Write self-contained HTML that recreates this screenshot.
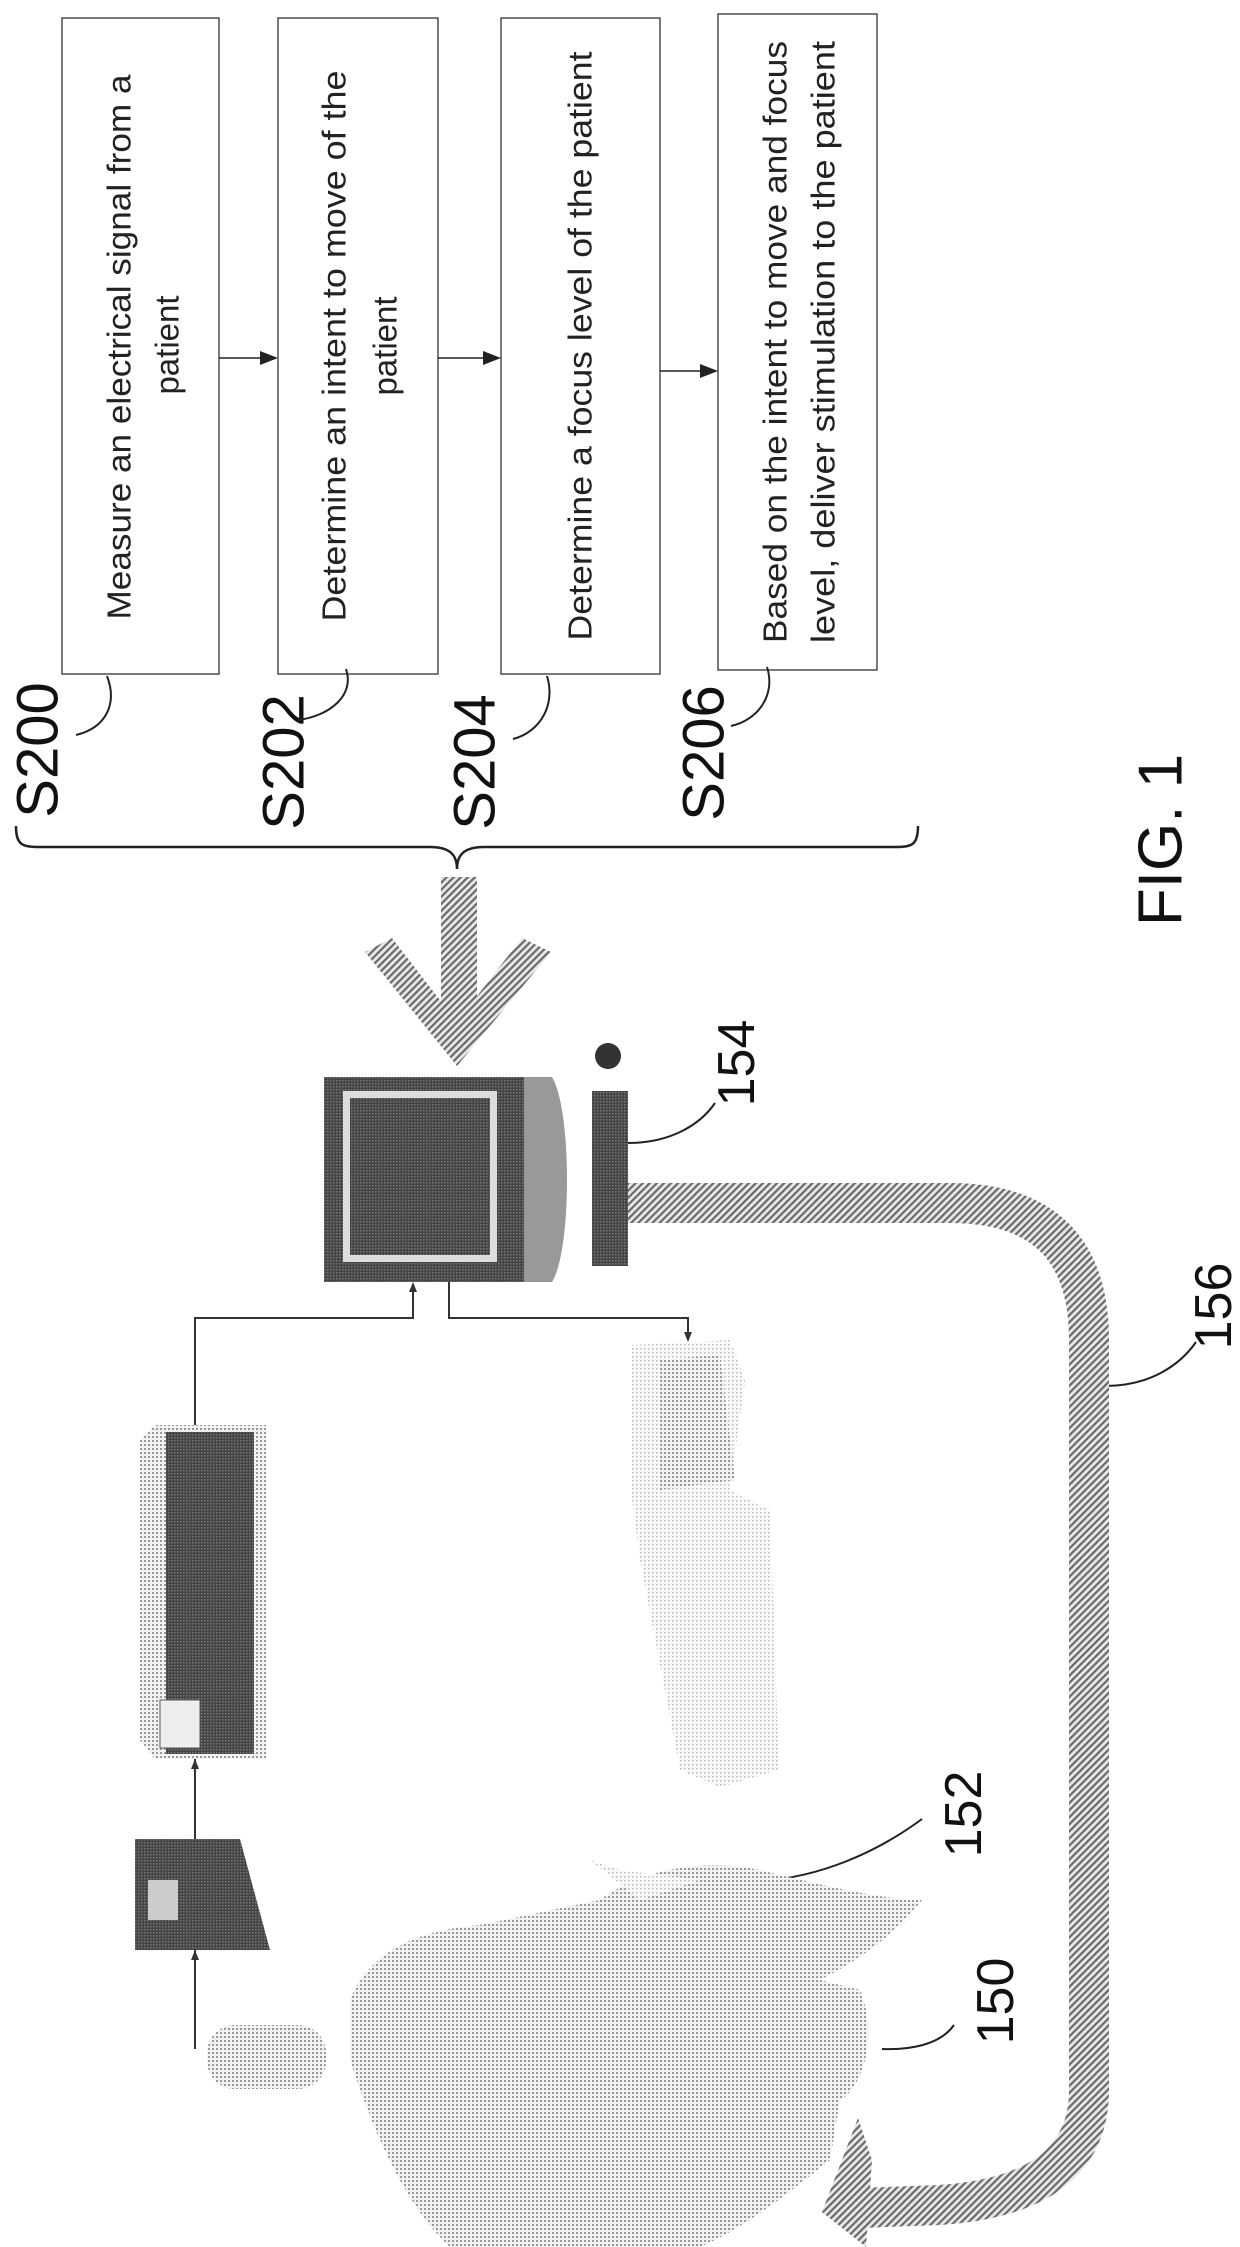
<!DOCTYPE html>
<html><head><meta charset="utf-8"><style>html,body{margin:0;padding:0;background:#fff}svg{display:block}</style></head>
<body>
<svg width="1240" height="2247" viewBox="0 0 1240 2247" xmlns="http://www.w3.org/2000/svg" font-family="Liberation Sans, sans-serif">
<defs>
<pattern id="hatch" width="5" height="5" patternUnits="userSpaceOnUse" patternTransform="rotate(45)">
<rect width="5" height="5" fill="#e8e8e8"/><rect width="2.2" height="5" fill="#6a6a6a"/></pattern>
<pattern id="dots" width="4" height="4" patternUnits="userSpaceOnUse"><rect width="4" height="4" fill="#f2f2f2"/><rect width="2" height="2" fill="#999"/></pattern>
<pattern id="dots2" width="4" height="4" patternUnits="userSpaceOnUse"><rect width="4" height="4" fill="#fafafa"/><rect width="1.5" height="1.5" fill="#b8b8b8"/></pattern>
<pattern id="dark" width="3" height="3" patternUnits="userSpaceOnUse"><rect width="3" height="3" fill="#444"/><rect width="1.5" height="1.5" fill="#777"/></pattern>
</defs>
<g fill="#fff" stroke="#333" stroke-width="1.3">
<rect x="62" y="18" width="157" height="656"/>
<rect x="278" y="18" width="160" height="656"/>
<rect x="501" y="18" width="159" height="656"/>
<rect x="718" y="14" width="159" height="656"/>
</g>
<g font-size="33" fill="#222" text-anchor="middle" dominant-baseline="central">
<text transform="translate(119,347) rotate(-90)" textLength="545" lengthAdjust="spacingAndGlyphs">Measure an electrical signal from a</text>
<text transform="translate(167,345) rotate(-90)">patient</text>
<text transform="translate(334,346) rotate(-90)" textLength="551" lengthAdjust="spacingAndGlyphs">Determine an intent to move of the</text>
<text transform="translate(385,346) rotate(-90)">patient</text>
<text transform="translate(580,346) rotate(-90)" textLength="589" lengthAdjust="spacingAndGlyphs">Determine a focus level of the patient</text>
<text transform="translate(775,342) rotate(-90)" textLength="602" lengthAdjust="spacingAndGlyphs">Based on the intent to move and focus</text>
<text transform="translate(823,342) rotate(-90)" textLength="602" lengthAdjust="spacingAndGlyphs">level, deliver stimulation to the patient</text>
</g>
<g stroke="#222" stroke-width="1.5" fill="#222">
<line x1="219" y1="358" x2="262" y2="358"/><polygon points="278,358 260,351 260,365" stroke="none"/>
<line x1="438" y1="358" x2="485" y2="358"/><polygon points="501,358 483,351 483,365" stroke="none"/>
<line x1="660" y1="371" x2="702" y2="371"/><polygon points="718,371 700,364 700,378" stroke="none"/>
</g>
<g font-size="58" fill="#111" text-anchor="middle" dominant-baseline="central">
<text transform="translate(38,750) rotate(-90)">S200</text>
<text transform="translate(284,762) rotate(-90)">S202</text>
<text transform="translate(475,762) rotate(-90)">S204</text>
<text transform="translate(704,753) rotate(-90)">S206</text>
<text transform="translate(1161,840) rotate(-90)" font-size="62">FIG. 1</text>
<text transform="translate(737,1063) rotate(-90)" font-size="52">154</text>
<text transform="translate(1214,1306) rotate(-90)" font-size="52">156</text>
<text transform="translate(964,1814) rotate(-90)" font-size="52">152</text>
<text transform="translate(996,2001) rotate(-90)" font-size="52">150</text>
</g>
<g fill="none" stroke="#222" stroke-width="2">
<path d="M107 676 C118 705 105 728 76 735"/>
<path d="M346 669 C355 695 330 716 298 720"/>
<path d="M547 676 C556 705 540 732 513 739"/>
<path d="M767 667 C776 695 758 720 731 726"/>
<path d="M16 826 C16 845 22 847 40 847 L430 847 C450 847 457 855 457 869 C457 855 464 847 484 847 L895 847 C912 847 918 845 918 826" stroke-width="2.5"/>
<path d="M628 1143 C670 1143 700 1125 715 1103"/>
<path d="M1105 1386 C1150 1386 1180 1365 1196 1342"/>
<path d="M922 1819 C880 1850 820 1880 747 1882"/>
<path d="M954 2025 C940 2045 910 2050 882 2049"/>
</g>
<rect x="441" y="877" width="36" height="160" fill="url(#hatch)"/>
<polygon points="365,952 392,938 457,1022 522,938 551,952 457,1066" fill="url(#hatch)"/>
<rect x="324" y="1077" width="200" height="205" fill="url(#dark)"/>
<path d="M524 1077 L552 1077 C572 1110 572 1250 552 1282 L524 1282 Z" fill="#999"/>
<rect x="343" y="1091" width="154" height="171" fill="#ddd"/>
<rect x="350" y="1098" width="140" height="157" fill="url(#dark)"/>
<rect x="592" y="1091" width="36" height="175" fill="url(#dark)"/>
<circle cx="608" cy="1056" r="13" fill="#333"/>
<path d="M628 1203 L950 1203 Q1089 1203 1089 1340 L1089 2090 Q1089 2195 940 2205 L860 2208" fill="none" stroke="url(#hatch)" stroke-width="40"/>
<polygon points="858,2118 822,2212 866,2247 872,2160" fill="url(#hatch)"/>
<g stroke="#333" stroke-width="2" fill="none">
<path d="M413 1290 L413 1318 L195 1318 L195 2049"/>
<path d="M449 1282 L449 1318 L688 1318 L688 1336"/>
</g>
<g fill="#333">
<polygon points="413,1282 409,1292 417,1292"/>
<polygon points="688,1342 684,1332 692,1332"/>
<polygon points="195,1759 191,1769 199,1769"/>
<polygon points="195,1950 191,1960 199,1960"/>
</g>
<path d="M140 1440 L155 1425 L266 1425 L266 1759 L155 1759 L140 1740 Z" fill="url(#dots)"/>
<rect x="166" y="1432" width="88" height="322" fill="url(#dark)"/>
<rect x="160" y="1700" width="40" height="48" fill="#eee" stroke="#555"/>
<path d="M135 1839 L240 1839 L270 1950 L135 1950 Z" fill="url(#dark)"/>
<rect x="148" y="1880" width="30" height="40" fill="#ccc"/>
<rect x="207" y="2025" width="119" height="64" rx="28" fill="url(#dots)"/>
<path d="M632 1345 L730 1340 L745 1380 L730 1490 L770 1510 L779 1770 L720 1787 L680 1770 L640 1560 L632 1500 Z" fill="url(#dots2)"/>
<path d="M660 1360 L720 1355 L735 1480 L660 1490 Z" fill="url(#dots)"/>
<path d="M350 2000 C370 1950 420 1930 480 1925 L600 1900 C640 1870 700 1858 760 1870 C800 1880 880 1900 922 1900 C900 1930 860 1960 820 1980 L860 1990 C880 2040 860 2090 840 2100 L830 2160 C780 2200 740 2230 700 2247 L450 2247 C400 2200 370 2120 350 2060 Z" fill="url(#dots)"/>
<path d="M590 1860 L620 1870 L700 1880 L640 1900 Z" fill="url(#dots2)"/>
</svg>
</body></html>
